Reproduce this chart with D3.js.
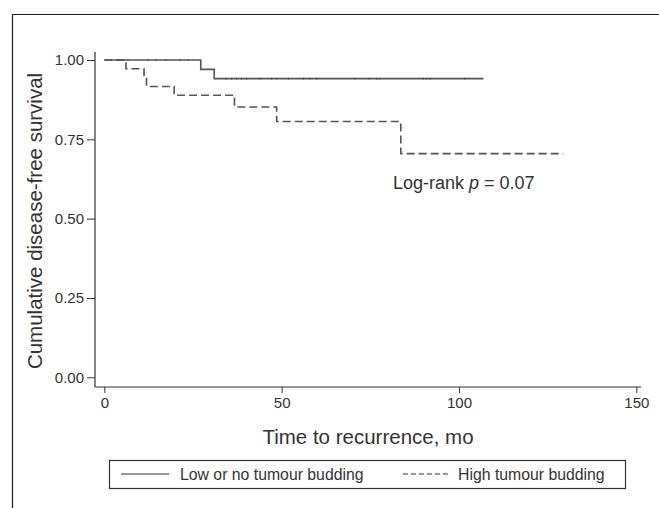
<!DOCTYPE html>
<html>
<head>
<meta charset="utf-8">
<script src="https://cdn.jsdelivr.net/npm/d3@7"></script>
<style>
  html, body { margin: 0; padding: 0; background: #fff; }
  svg { display: block; font-family: "Liberation Sans", Arial, sans-serif; }
  .tick text { font-size: 15px; fill: #333; }
</style>
</head>
<body>
<svg id="chart" width="659" height="508"></svg>
<script>
// ---- Data ----
const lowTimes = [0, 27.2, 31.0, 106.9];
const lowSurv  = [1.0, 0.9706, 0.9412, 0.9412];
const lowCensorAt1 = [3.9, 6.7, 12.3, 14.6, 17.4, 21.4, 23.7];
const lowCensorAtEnd = [34.3, 35.9, 37.3, 38.7, 40.1, 43.9, 47.2, 48.6, 51.9, 56.1, 58.0, 59.9, 70.7, 74.7, 76.8, 77.7, 89.9, 90.9, 91.9, 101.7];

const highTimes = [0, 6.1, 11.2, 11.9, 19.7, 36.7, 48.6, 83.6, 129.4];
const highSurv  = [1.0, 0.9722, 0.9444, 0.9167, 0.8889, 0.852, 0.806, 0.705, 0.705];

const xTicks = [0, 50, 100, 150];
const yTicks = [0, 0.25, 0.5, 0.75, 1.0];
const seriesNames = ["Low or no tumour budding", "High tumour budding"];
const xTitle = "Time to recurrence, mo";
const yTitle = "Cumulative disease-free survival";

// ---- Layout ----
const svg = d3.select("#chart");
const x = d3.scaleLinear().domain([0, 150]).range([104.3, 636.3]);
const y = d3.scaleLinear().domain([0, 1]).range([377.3, 60]);
const axisColor = "#333";
const textColor = "#333";

// outer frame (left + top lines)
svg.append("path")
  .attr("d", "M12.5,508 V14.5 H659")
  .attr("fill", "none").attr("stroke", "#222").attr("stroke-width", 1.2);

// Y axis
const yAxis = d3.axisLeft(y).tickValues(yTicks).tickFormat(d3.format(".2f"))
  .tickSize(8).tickPadding(3).tickSizeOuter(0);
const gy = svg.append("g").attr("transform", "translate(95,0)").call(yAxis)
  .attr("font-size", 15).attr("font-family", null);
gy.select(".domain").remove();
gy.selectAll("line").attr("stroke", axisColor);
gy.selectAll("text").attr("fill", textColor);
svg.append("line").attr("x1", 95).attr("x2", 95).attr("y1", 52).attr("y2", 387)
  .attr("stroke", axisColor).attr("stroke-width", 1.2);

// X axis
const xAxis = d3.axisBottom(x).tickValues(xTicks).tickFormat(d3.format("d"))
  .tickSize(6).tickPadding(4).tickSizeOuter(0);
const gx = svg.append("g").attr("transform", "translate(0,387)").call(xAxis)
  .attr("font-size", 15).attr("font-family", null);
gx.select(".domain").remove();
gx.selectAll("line").attr("stroke", axisColor);
gx.selectAll("text").attr("fill", textColor);
svg.append("line").attr("x1", 95).attr("x2", 641).attr("y1", 387).attr("y2", 387)
  .attr("stroke", axisColor).attr("stroke-width", 1.2);

// Axis titles
svg.append("text").attr("x", 368).attr("y", 444).attr("text-anchor", "middle")
  .attr("font-size", 20.5).attr("fill", textColor).text(xTitle);
svg.append("text").attr("transform", "translate(42,221) rotate(-90)")
  .attr("text-anchor", "middle").attr("font-size", 20.5).attr("fill", textColor).text(yTitle);

// Curves
const line = d3.line().x(d => x(d[0])).y(d => y(d[1])).curve(d3.curveStepAfter);
const lowData = lowTimes.map((t, i) => [t, lowSurv[i]]);
const highData = highTimes.map((t, i) => [t, highSurv[i]]);

svg.append("path").datum(highData).attr("d", line)
  .attr("fill", "none").attr("stroke", "#555").attr("stroke-width", 1.6)
  .attr("stroke-dasharray", "8,4");
svg.append("path").datum(lowData).attr("d", line)
  .attr("fill", "none").attr("stroke", "#555").attr("stroke-width", 1.6);

// censor marks (tiny)
const censor = lowCensorAt1.map(t => [t, 1.0]).concat(lowCensorAtEnd.map(t => [t, 0.9412]));
svg.append("g").selectAll("line").data(censor).join("line")
  .attr("x1", d => x(d[0])).attr("x2", d => x(d[0]))
  .attr("y1", d => y(d[1]) - 0.9).attr("y2", d => y(d[1]) + 0.9)
  .attr("stroke", "#333").attr("stroke-width", 0.8);

// Annotation
const ann = svg.append("text").attr("x", 393).attr("y", 189)
  .attr("font-size", 18).attr("fill", textColor);
ann.append("tspan").text("Log-rank ");
ann.append("tspan").attr("font-style", "italic").text("p");
ann.append("tspan").text(" = 0.07");

// Legend
svg.append("rect").attr("x", 109.5).attr("y", 460.5).attr("width", 516).attr("height", 28)
  .attr("fill", "none").attr("stroke", "#333").attr("stroke-width", 1.2);
svg.append("line").attr("x1", 121).attr("x2", 169).attr("y1", 474).attr("y2", 474)
  .attr("stroke", "#333").attr("stroke-width", 1.2);
svg.append("text").attr("x", 180).attr("y", 479.5).attr("font-size", 15.8)
  .attr("fill", textColor).text(seriesNames[0]);
svg.append("line").attr("x1", 403).attr("x2", 449).attr("y1", 474).attr("y2", 474)
  .attr("stroke", "#333").attr("stroke-width", 1.2).attr("stroke-dasharray", "5,3");
svg.append("text").attr("x", 458).attr("y", 479.5).attr("font-size", 15.8)
  .attr("fill", textColor).text(seriesNames[1]);
</script>
</body>
</html>
